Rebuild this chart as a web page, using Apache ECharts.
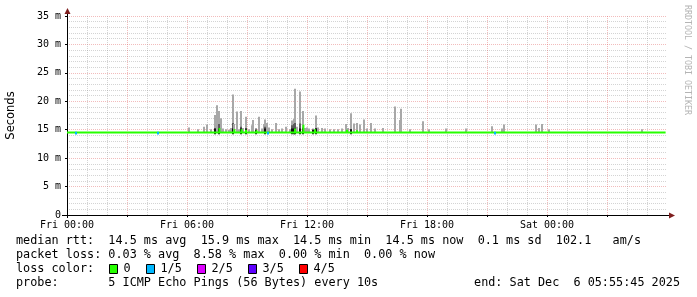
<!DOCTYPE html>
<html><head><meta charset="utf-8">
<script src="https://cdn.jsdelivr.net/npm/echarts@6/dist/echarts.min.js"></script>
<style>html,body{margin:0;padding:0;background:#fff}#c{width:697px;height:297px}</style>
</head><body><div id="c"></div>
<script>
// ---- data (hours since Fri 00:00, values in ms) ----
const timeLabels = ['Fri 00:00', 'Fri 06:00', 'Fri 12:00', 'Fri 18:00', 'Sat 00:00'];
const yTickLabels = ['0', '5 m', '10 m', '15 m', '20 m', '25 m', '30 m', '35 m'];
const medianRtt = 14.5;
const medianHours = [0, 29.93];
const medianValues = [14.5, 14.5];
const smokeHours = [6.1, 6.55, 6.85, 7.0, 7.2, 7.4, 7.5, 7.6, 7.7, 7.8, 7.95, 8.1, 8.2, 8.3, 8.35, 8.5, 8.6, 8.7, 8.8, 8.95,
  9.1, 9.25, 9.3, 9.45, 9.6, 9.75, 9.85, 9.9, 10.0, 10.1, 10.25, 10.45, 10.6, 10.75, 10.95, 11.15, 11.25, 11.35, 11.4, 11.5,
  11.65, 11.8, 11.9, 12.0, 12.1, 12.3, 12.45, 12.55, 12.75, 12.9, 13.15, 13.35, 13.55, 13.75, 13.95, 14.05, 14.2, 14.35, 14.5, 14.65,
  14.85, 15.0, 15.2, 15.4, 15.8, 16.4, 16.65, 16.7, 17.15, 17.8, 18.1, 18.95, 19.95, 21.25, 21.75, 21.85, 23.45, 23.6, 23.75, 24.1, 28.75];
const smokeMax = [15.4, 15.1, 15.5, 15.9, 15.1, 17.6, 19.3, 18.3, 17.0, 15.2, 15.1, 15.0, 15.3, 21.2, 16.0, 18.2, 15.1, 18.3, 15.3, 17.3,
  15.1, 15.8, 16.7, 15.3, 17.3, 15.2, 16.0, 16.8, 16.2, 15.4, 15.1, 16.2, 15.1, 15.2, 15.5, 15.1, 16.6, 16.9, 22.2, 15.5,
  21.7, 18.3, 15.3, 15.4, 15.2, 15.2, 17.5, 15.4, 15.3, 15.2, 15.1, 15.1, 15.1, 15.2, 16.0, 15.3, 17.9, 16.1, 16.2, 15.9,
  16.8, 15.2, 16.2, 15.2, 15.3, 19.1, 16.7, 18.7, 15.1, 16.5, 15.1, 15.2, 15.2, 15.6, 15.2, 15.9, 15.9, 15.3, 16.0, 15.1, 15.1];
const smokeDark = [0, 0, 0, 0, 0, 15.2, 0, 16.0, 0, 0, 0, 0, 0, 16.2, 0, 0, 0, 15.5, 0, 15.2,
  0, 0, 0, 15.0, 0, 0, 0, 15.5, 0, 0, 0, 0, 0, 0, 0, 0, 15.8, 16.0, 16.2, 0,
  16.1, 15.4, 0, 0, 0, 15.0, 15.3, 0, 0, 0, 0, 0, 0, 0, 0, 0, 15.1, 0, 0, 0,
  0, 0, 0, 0, 0, 0, 0, 0, 0, 0, 0, 0, 0, 0, 0, 0, 0, 0, 0, 0, 0];
const bumpHours = [7.62, 8.37, 8.73, 8.95, 9.48, 11.4, 11.82, 12.4, 14.0, 14.5];
const bumpValues = [15.3, 15.1, 15.1, 15.0, 14.9, 15.2, 15.9, 15.1, 15.0, 14.9];
const lossHours = [0.45, 4.55, 10.05, 21.4];
const lossLabels = ['0', '1/5', '2/5', '3/5', '4/5'];
const lossColors = ['#26ff00', '#00b8ff', '#dd00ff', '#5e00ff', '#ff0000'];
const statsLine1 = 'median rtt:  14.5 ms avg  15.9 ms max  14.5 ms min  14.5 ms now  0.1 ms sd  102.1   am/s';
const statsLine2 = 'packet loss: 0.03 % avg  8.58 % max  0.00 % min  0.00 % now';
const probeLine = 'probe:       5 ICMP Echo Pings (56 Bytes) every 10s';
const endLine = 'end: Sat Dec  6 05:55:45 2025';

// ---- style ----
const GL = 67, GT = 16, GR = 30, GB = 82;
const W = 697, H = 297;
const smokeStep = 0.1;
const MONO = 'DejaVu Sans Mono';
const redGrid = 'rgba(222,80,80,0.38)';
const grayGrid = 'rgba(143,143,143,0.38)';

const smokeData = smokeHours.map((h, i) => [h, smokeMax[i], smokeDark[i]]);
const medianData = medianHours.map((h, i) => [h, medianValues[i]]);
const bumpData = bumpHours.map((h, i) => [h, bumpValues[i]]);
const lossData = lossHours.map(h => [h, medianRtt]);

const chart = echarts.init(document.getElementById('c'), null, {renderer: 'canvas'});

const legendY = [241, 255, 269, 283];
const graphics = [];
const txt = (x, y, s, extra) => Object.assign({type: 'text', x, y, silent: true,
  style: Object.assign({text: s, font: '11.8px "' + MONO + '"', fill: '#000', textVerticalAlign: 'middle'}, extra || {})});
graphics.push(txt(16, legendY[0], statsLine1));
graphics.push(txt(16, legendY[1], statsLine2));
graphics.push(txt(16, legendY[2], 'loss color:'));
const boxX = [109, 146, 197, 248, 299];
lossLabels.forEach((l, i) => {
  graphics.push({type: 'rect', shape: {x: boxX[i] + 0.5, y: legendY[2] - 4.5, width: 8, height: 9},
    style: {fill: lossColors[i], stroke: '#000', lineWidth: 1}, silent: true});
  graphics.push(txt(boxX[i] + 14.5, legendY[2], l));
});
graphics.push(txt(16, legendY[3], probeLine));
graphics.push(txt(680, legendY[3], endLine, {textAlign: 'right'}));
// watermark
graphics.push({type: 'text', x: 691, y: 5, rotation: -Math.PI / 2, silent: true,
  style: {text: 'RRDTOOL / TOBI OETIKER', font: '8.3px "' + MONO + '"', fill: '#b4b4b4', textVerticalAlign: 'top', textAlign: 'left'}});
// axis extensions + arrows
const bottomY = H - GB, rightX = W - GR;
graphics.push({type: 'line', shape: {x1: GL + 0.5, y1: GT, x2: GL + 0.5, y2: GT - 4}, style: {stroke: '#000', lineWidth: 1}, silent: true});
graphics.push({type: 'line', shape: {x1: GL + 0.5, y1: bottomY, x2: GL + 0.5, y2: bottomY + 3}, style: {stroke: '#000', lineWidth: 1}, silent: true});
graphics.push({type: 'line', shape: {x1: GL - 5, y1: bottomY + 0.5, x2: GL, y2: bottomY + 0.5}, style: {stroke: '#000', lineWidth: 1}, silent: true});
graphics.push({type: 'line', shape: {x1: rightX, y1: bottomY + 0.5, x2: rightX + 3, y2: bottomY + 0.5}, style: {stroke: '#000', lineWidth: 1}, silent: true});
graphics.push({type: 'polygon', shape: {points: [[GL + 0.5, GT - 8], [GL - 2.5, GT - 2], [GL + 3.5, GT - 2]]}, style: {fill: '#7f1f1f'}, silent: true});
graphics.push({type: 'polygon', shape: {points: [[rightX + 8, bottomY + 0.5], [rightX + 2, bottomY - 2.5], [rightX + 2, bottomY + 3.5]]}, style: {fill: '#7f1f1f'}, silent: true});

function rectAt(api, h, y0, y1, color) {
  const w = api.size([smokeStep, 0])[0];
  const a = api.coord([h, y1]);
  const b = api.coord([h, y0]);
  return {type: 'rect', shape: {x: a[0] - w / 2, y: a[1], width: w, height: b[1] - a[1]}, style: {fill: color}};
}

chart.setOption({
  animation: false,
  backgroundColor: '#fff',
  grid: {left: GL, top: GT, right: GR, bottom: GB, containLabel: false, outerBoundsMode: 'none'},
  xAxis: {
    type: 'value', min: 0, max: 30, interval: 3,
    axisLine: {show: true, onZero: false, lineStyle: {color: '#000', width: 1}},
    axisTick: {show: true, length: 2, lineStyle: {color: '#000'}},
    axisLabel: {margin: 5, fontFamily: MONO, fontSize: 10, color: '#000', showMaxLabel: false,
      formatter: v => (v % 6 === 0 && v / 6 < timeLabels.length) ? timeLabels[v / 6] : ''},
    splitLine: {show: true, showMinLine: false, showMaxLine: false, lineStyle: {color: redGrid, type: [1, 1], width: 1}},
    minorTick: {show: false, splitNumber: 3},
    minorSplitLine: {show: true, lineStyle: {color: grayGrid, type: [1, 1], width: 1}}
  },
  yAxis: {
    type: 'value', min: 0, max: 35, interval: 5,
    name: 'Seconds', nameLocation: 'middle', nameGap: 50,
    nameTextStyle: {fontFamily: 'DejaVu Sans', fontSize: 11.5, color: '#000'},
    axisLine: {show: true, lineStyle: {color: '#000', width: 1}},
    axisTick: {show: true, length: 2, lineStyle: {color: '#000'}},
    axisLabel: {margin: 6, fontFamily: MONO, fontSize: 10, color: '#000', formatter: v => yTickLabels[Math.round(v / 5)]},
    splitLine: {show: true, showMinLine: false, lineStyle: {color: redGrid, type: [1, 1], width: 1}},
    minorTick: {show: false, splitNumber: 5},
    minorSplitLine: {show: true, lineStyle: {color: grayGrid, type: [1, 1], width: 1}}
  },
  series: [
    {
      type: 'custom', z: 2, data: smokeData, encode: {x: 0, y: 1},
      renderItem: (params, api) => {
        const h = api.value(0), top = api.value(1), dark = api.value(2);
        const children = [rectAt(api, h, medianRtt, top, '#a8a8a8')];
        if (dark > 0) {
          children.push(rectAt(api, h, medianRtt, dark, '#5c5c5c'));
          children.push(rectAt(api, h, 14.2, Math.min(dark, 15.2), '#111'));
        }
        return {type: 'group', children};
      }
    },
    {
      type: 'line', z: 3, data: medianData, symbol: 'none', silent: true,
      lineStyle: {color: lossColors[0], width: 2}
    },
    {
      type: 'custom', z: 4, data: bumpData, encode: {x: 0, y: 1},
      renderItem: (params, api) => rectAt(api, api.value(0), medianRtt, api.value(1), lossColors[0])
    },
    {
      type: 'custom', z: 5, data: lossData, encode: {x: 0, y: 1},
      renderItem: (params, api) => rectAt(api, api.value(0), api.value(1) - 0.35, api.value(1) + 0.15, lossColors[1])
    }
  ],
  graphic: graphics
});
</script></body></html>
